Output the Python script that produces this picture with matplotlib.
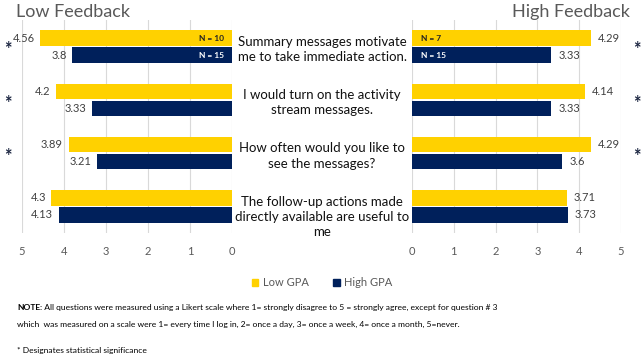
import matplotlib
matplotlib.use("Agg")
import matplotlib.pyplot as plt
from matplotlib.patches import Patch
from matplotlib import transforms

plt.rcParams['font.family'] = ['Lato', 'DejaVu Sans']

# data
questions = [
    "Summary messages motivate\nme to take immediate action.",
    "I would turn on the activity\nstream messages.",
    "How often would you like to\nsee the messages?",
    "The follow-up actions made\ndirectly available are useful to\nme",
]
low_fb_low_gpa = [4.56, 4.2, 3.89, 4.3]
low_fb_high_gpa = [3.8, 3.33, 3.21, 4.13]
high_fb_low_gpa = [4.29, 4.14, 4.29, 3.71]
high_fb_high_gpa = [3.33, 3.33, 3.6, 3.73]
sig_low_fb = [True, True, True, False]
sig_high_fb = [True, True, True, False]
n_low_fb = ["N = 10", "N = 15"]
n_high_fb = ["N = 7", "N = 15"]
ticks = [0, 1, 2, 3, 4, 5]

note1 = ": All questions were measured using a Likert scale where 1= strongly disagree to 5 = strongly agree, except for question # 3"
note2 = "which  was measured on a scale were 1= every time I log in, 2= once a day, 3= once a week, 4= once a month, 5=never."
note3 = "* Designates statistical significance"

YELLOW = "#FFD100"
NAVY = "#00205B"
GREY = "#595959"
GRID = "#D9D9D9"

fig = plt.figure(figsize=(6.44, 3.63), dpi=100)
bottom, top = 1 - 233/363, 1 - 20/363
ax1 = fig.add_axes([22/644, bottom, 210/644, top - bottom])
ax2 = fig.add_axes([412/644, bottom, 209/644, top - bottom])

pos = list(range(len(questions)))
h = 0.29
off = 0.16

for ax in (ax1, ax2):
    ax.set_xlim(0, 5)
    ax.set_ylim(len(questions) - 0.5, -0.5)
    ax.set_xticks(ticks)
    ax.set_yticks([])
    ax.grid(axis='x', color=GRID, linewidth=0.8)
    ax.set_axisbelow(True)
    for s in ax.spines.values():
        s.set_visible(False)
    ax.tick_params(axis='x', length=0, pad=9, labelsize=8, labelcolor=GREY)
ax1.invert_xaxis()

# left panel: low feedback
ax1.barh([p - off for p in pos], low_fb_low_gpa, height=h, color=YELLOW)
ax1.barh([p + off for p in pos], low_fb_high_gpa, height=h, color=NAVY)
for p, a, b in zip(pos, low_fb_low_gpa, low_fb_high_gpa):
    ax1.annotate(f"{a:g}", (a, p - off), xytext=(-4, 0), textcoords='offset points',
                 ha='right', va='center', fontsize=8, color="#404040")
    ax1.annotate(f"{b:g}", (b, p + off), xytext=(-4, 0), textcoords='offset points',
                 ha='right', va='center', fontsize=8, color="#404040")
ax1.text(0.2, -off, n_low_fb[0], ha='right', va='center', fontsize=6,
         fontweight='bold', color="#222222")
ax1.text(0.2, off, n_low_fb[1], ha='right', va='center', fontsize=6,
         fontweight='bold', color="white")

# right panel: high feedback
ax2.barh([p - off for p in pos], high_fb_low_gpa, height=h, color=YELLOW)
ax2.barh([p + off for p in pos], high_fb_high_gpa, height=h, color=NAVY)
for p, a, b in zip(pos, high_fb_low_gpa, high_fb_high_gpa):
    ax2.annotate(f"{a:g}", (a, p - off), xytext=(5, 0), textcoords='offset points',
                 ha='left', va='center', fontsize=8, color="#404040")
    ax2.annotate(f"{b:g}", (b, p + off), xytext=(5, 0), textcoords='offset points',
                 ha='left', va='center', fontsize=8, color="#404040")
ax2.text(0.22, -off, n_high_fb[0], ha='left', va='center', fontsize=6,
         fontweight='bold', color="#222222")
ax2.text(0.22, off, n_high_fb[1], ha='left', va='center', fontsize=6,
         fontweight='bold', color="white")

# question text between the panels
tr = transforms.blended_transform_factory(fig.transFigure, ax1.transData)
for p, q in zip(pos, questions):
    fig.text(322/644, p - 0.2, q, transform=tr, ha='center', va='top',
             fontsize=9.5, color="#111111", linespacing=1.32)

# significance stars
for p, s in zip(pos, sig_low_fb):
    if s:
        fig.text(8/644, p + 0.06, "*", transform=tr, ha='center', va='center',
                 fontsize=13, fontweight='bold', color="#1a2440")
for p, s in zip(pos, sig_high_fb):
    if s:
        fig.text(637/644, p + 0.06, "*", transform=tr, ha='center', va='center',
                 fontsize=13, fontweight='bold', color="#1a2440")

fig.text(16/644, 1 - 12/363, "Low Feedback", ha='left', va='center',
         fontsize=13, color=GREY)
fig.text(630/644, 1 - 12/363, "High Feedback", ha='right', va='center',
         fontsize=13, color=GREY)

handles = [Patch(color=YELLOW, label="Low GPA"), Patch(color=NAVY, label="High GPA")]
fig.legend(handles=handles, loc='center', bbox_to_anchor=(0.5, 1 - 283/363),
           ncol=2, frameon=False, fontsize=8, handlelength=0.6, handleheight=0.6,
           handletextpad=0.4, columnspacing=2.2, labelcolor=GREY)

# note at the bottom, sized so the first line ends where the reference's does
renderer = fig.canvas.get_renderer()
fs = 6.6
nt = fig.text(17/644, 1 - 307/363, "NOTE", ha='left', va='center',
              fontsize=fs, fontweight='bold', color="black")
rest = fig.text(0, 1 - 307/363, note1, ha='left', va='center', fontsize=fs, color="black")
width = nt.get_window_extent(renderer).width + rest.get_window_extent(renderer).width
fs = fs * 476 / width
nt.set_fontsize(fs)
rest.set_fontsize(fs)
rest.set_x(nt.get_window_extent(renderer).x1 / 644)
fig.text(17/644, 1 - 324/363, note2, ha='left', va='center', fontsize=fs, color="black")
fig.text(17/644, 1 - 350/363, note3, ha='left', va='center', fontsize=fs, color="black")

fig.savefig("out.png", dpi=100)
